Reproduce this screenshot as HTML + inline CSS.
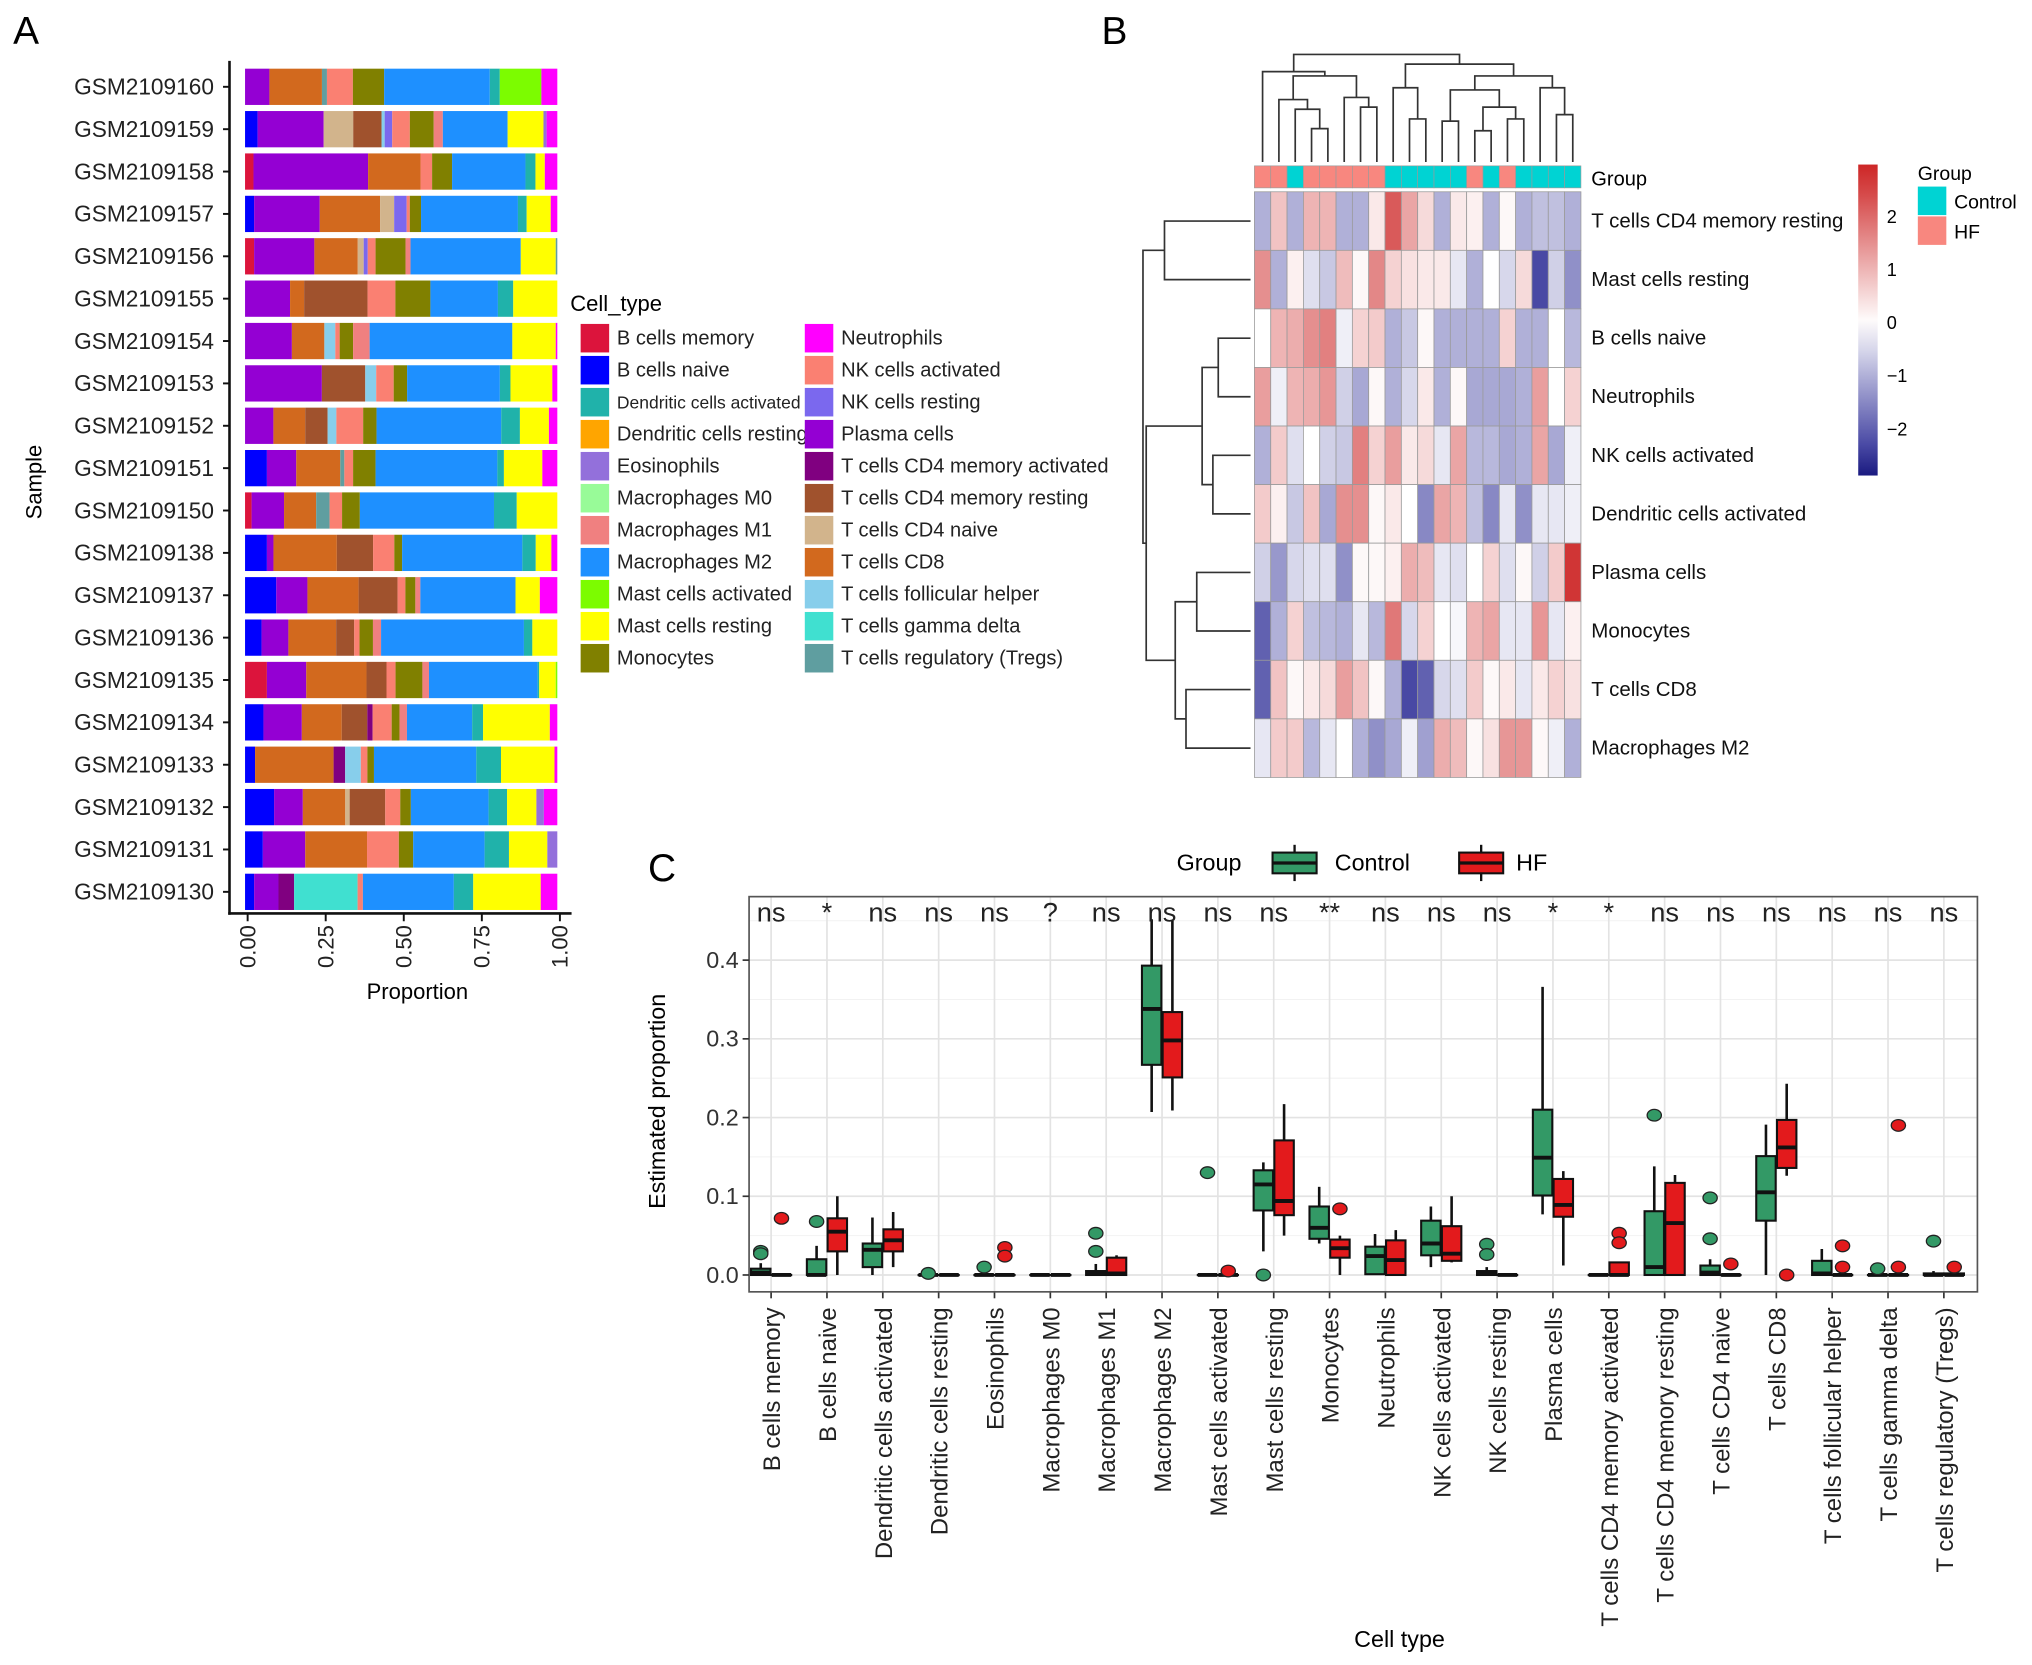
<!DOCTYPE html>
<html><head><meta charset="utf-8"><style>
html,body{margin:0;padding:0;background:#fff;}
svg{display:block;font-family:"Liberation Sans",Arial,sans-serif;}
</style></head><body>
<svg id="fig" width="2032" height="1665" viewBox="0 0 1568 1285" xmlns="http://www.w3.org/2000/svg">
<rect x="0" y="0" width="1568" height="1285" fill="#fff"/>
<text x="10" y="34" font-size="30">A</text>
<text x="850" y="34" font-size="30">B</text>
<text x="500" y="680" font-size="30">C</text>
<g id="pa"></g>
<g id="pb"></g>
<g id="pc"></g>
</svg>
<script>
// ---------- Panel A data ----------
const cellTypes=["B cells memory","B cells naive","Dendritic cells activated","Dendritic cells resting","Eosinophils","Macrophages M0","Macrophages M1","Macrophages M2","Mast cells activated","Mast cells resting","Monocytes","Neutrophils","NK cells activated","NK cells resting","Plasma cells","T cells CD4 memory activated","T cells CD4 memory resting","T cells CD4 naive","T cells CD8","T cells follicular helper","T cells gamma delta","T cells regulatory (Tregs)"];
const cellColors=["#DC143C","#0000FF","#20B2AA","#FFA500","#9370DB","#98FB98","#F08080","#1E90FF","#7CFC00","#FFFF00","#808000","#FF00FF","#FA8072","#7B68EE","#9400D3","#800080","#A0522D","#D2B48C","#D2691E","#87CEEB","#40E0D0","#5F9EA0"];
const samples=["GSM2109160","GSM2109159","GSM2109158","GSM2109157","GSM2109156","GSM2109155","GSM2109154","GSM2109153","GSM2109152","GSM2109151","GSM2109150","GSM2109138","GSM2109137","GSM2109136","GSM2109135","GSM2109134","GSM2109133","GSM2109132","GSM2109131","GSM2109130"];
const sampleTypes=[
[14,18,21,12,10,7,2,8,11],
[1,14,17,16,19,13,12,10,6,7,9,4,11],
[0,14,18,12,10,7,2,9,11],
[1,14,18,17,13,12,10,7,2,9,11],
[0,14,18,17,13,12,10,6,7,9,21],
[14,18,16,12,10,7,2,9],
[14,18,19,12,10,6,7,9,11],
[14,16,19,12,10,7,2,9,11],
[14,18,16,19,12,10,7,2,9,11],
[1,14,18,21,12,10,7,2,9,11],
[0,14,18,21,12,10,7,2,9],
[1,14,18,16,12,10,7,2,9,11],
[1,14,18,16,12,10,6,7,9,11],
[1,14,18,16,12,10,6,7,2,9],
[0,14,18,16,12,10,6,7,2,9,8],
[1,14,18,16,15,12,10,6,7,2,9,11],
[1,18,15,19,12,10,7,2,9,11],
[1,14,18,17,16,12,10,7,2,9,4,11],
[1,14,18,12,10,7,2,9,4],
[1,14,15,20,12,7,2,9,11]];
const sampleVals=[
[.078,.168,.016,.083,.10,.338,.032,.133,.051],
[.04,.21,.094,.09,.01,.024,.056,.076,.029,.206,.114,.01,.034],
[.027,.367,.168,.037,.064,.235,.032,.03,.04],
[.029,.21,.193,.045,.04,.01,.036,.31,.028,.077,.021],
[.029,.193,.139,.019,.013,.025,.096,.016,.353,.112,.005],
[.144,.045,.203,.089,.112,.216,.049,.141],
[.15,.104,.035,.014,.043,.053,.457,.139,.005],
[.246,.139,.035,.056,.043,.297,.034,.134,.016],
[.091,.102,.072,.028,.086,.043,.4,.06,.093,.027],
[.07,.094,.141,.013,.028,.072,.39,.021,.123,.048],
[.021,.104,.103,.043,.04,.057,.43,.073,.13],
[.07,.021,.203,.116,.068,.025,.385,.043,.05,.019],
[.1,.1,.164,.125,.025,.032,.016,.305,.078,.056],
[.053,.086,.153,.058,.017,.043,.026,.458,.027,.08],
[.07,.126,.193,.064,.029,.086,.021,.348,.005,.053,.005],
[.059,.123,.128,.082,.017,.061,.025,.024,.209,.035,.214,.024],
[.032,.251,.037,.05,.021,.021,.327,.079,.171,.009],
[.093,.092,.136,.014,.114,.048,.034,.249,.059,.094,.024,.043],
[.057,.136,.198,.102,.046,.229,.078,.123,.032],
[.029,.078,.05,.203,.017,.291,.062,.216,.053]];
const propTicks=[0,0.25,0.5,0.75,1];
const propTickLabels=["0.00","0.25","0.50","0.75","1.00"];

// ---------- Panel B data ----------
const hmRows=["T cells CD4 memory resting","Mast cells resting","B cells naive","Neutrophils","NK cells activated","Dendritic cells activated","Plasma cells","Monocytes","T cells CD8","Macrophages M2"];
const hmGroups=["HF","HF","Control","HF","HF","HF","HF","HF","Control","Control","Control","Control","Control","HF","Control","HF","Control","Control","Control","Control"];
const hmValues=[
[-1,0.8,-1,1,1,-1,-1,0.3,2.2,1.2,0.5,-1,0.3,0.2,-1,0.1,-1,-0.8,-0.8,-1],
[1.5,-1,0.2,-0.4,-0.7,0.9,0.1,1.6,0.6,0.4,0.3,0.3,-0.3,-1,0,-0.5,0.5,-2.3,-0.6,-1.4],
[0,1,1.1,1.5,1.7,-0.2,0.6,0.7,-1,-0.7,0.1,-1,-1,-1,-1,0.6,-1,-1,0,-0.9],
[1.3,-0.2,1,1.1,1.4,-0.6,-1.1,0.1,-1,-0.5,0.3,-1,0.1,-1.1,-1.1,-1.1,-1,1.3,0,0.6],
[-1,0.7,-0.4,0,-0.6,-0.7,1.7,0.6,1.3,0.3,0.5,-0.3,1.2,-0.9,-0.9,-1.1,-1,1.2,-1.1,-0.2],
[0.7,0.2,-0.7,0.8,-1.1,1.5,1.5,0.1,0.3,0,-1.5,1.2,1,-0.8,-1.5,-0.3,-1.4,-0.3,-0.3,-0.2],
[-0.6,-1.3,-0.5,-0.4,-0.4,-1.4,0.1,0.1,0.2,1.1,0.9,-0.3,-0.4,0,0.6,-0.4,0.1,-0.6,0.7,2.7],
[-2,-1,0.6,-0.8,-0.9,-1,-0.3,-0.9,1.8,-0.5,0.6,0,-0.1,1,1.2,-0.3,-0.3,1.4,-0.3,0.2],
[-2,0.8,0.1,0.3,0.5,1.3,0.8,0.1,-1,-2.3,-2,-0.5,-0.4,0.7,0.1,0.3,-0.3,0.3,0.6,0.4],
[-0.3,0.7,0.7,-0.9,-0.3,0,-1,-1.4,-1.1,-0.2,-1.2,1.1,0.9,0.1,0.4,1.4,1.4,0.1,-0.2,-1]];
const colTree=[1,[0.84,0,[0.8,[0.58,1,[0.49,2,[0.31,3,4]]],[0.6,5,[0.51,6,7]]]],[0.91,[0.69,8,[0.4,9,10]],[0.8,[0.67,[0.38,11,12],[0.51,[0.29,13,14],[0.4,15,16]]],[0.69,17,[0.44,18,19]]]]];
const rowTree=[1,[0.8,0,1],[0.97,[0.45,[0.3,2,3],[0.35,4,5]],[0.7,[0.5,6,7],[0.6,8,9]]]];
const legendTicks=[2,1,0,-1,-2];

// ---------- Panel C data ----------
const boxCats=["B cells memory","B cells naive","Dendritic cells activated","Dendritic cells resting","Eosinophils","Macrophages M0","Macrophages M1","Macrophages M2","Mast cells activated","Mast cells resting","Monocytes","Neutrophils","NK cells activated","NK cells resting","Plasma cells","T cells CD4 memory activated","T cells CD4 memory resting","T cells CD4 naive","T cells CD8","T cells follicular helper","T cells gamma delta","T cells regulatory (Tregs)"];
const sigLabels=["ns","*","ns","ns","ns","?","ns","ns","ns","ns","**","ns","ns","ns","*","*","ns","ns","ns","ns","ns","ns"];
const ctrlStats=[[0,0,0.003,0.008,0.015],[0,0,0,0.02,0.037],[0,0.01,0.032,0.04,0.073],[0,0,0,0,0],[0,0,0,0,0],[0,0,0,0,0],[0,0,0.002,0.005,0.014],[0.207,0.267,0.338,0.393,0.452],[0,0,0,0,0],[0.03,0.082,0.115,0.133,0.143],[0.04,0.046,0.06,0.087,0.112],[0.001,0.001,0.024,0.036,0.052],[0.01,0.025,0.04,0.069,0.087],[0,0,0.002,0.005,0.01],[0.077,0.101,0.149,0.21,0.366],[0,0,0,0,0],[0,0,0.01,0.081,0.138],[0,0,0.003,0.012,0.02],[0,0.069,0.105,0.151,0.191],[0,0,0.002,0.018,0.033],[0,0,0,0,0],[0,0,0,0.002,0.005]];
const hfStats=[[0,0,0,0,0],[0,0.03,0.055,0.072,0.1],[0.01,0.03,0.044,0.058,0.08],[0,0,0,0,0],[0,0,0,0,0],[0,0,0,0,0],[0,0,0.002,0.022,0.025],[0.209,0.251,0.298,0.334,0.45],[0,0,0,0,0],[0.05,0.076,0.094,0.171,0.217],[0,0.022,0.034,0.045,0.05],[0,0,0.019,0.044,0.057],[0.016,0.018,0.027,0.062,0.1],[0,0,0,0,0],[0.012,0.074,0.089,0.122,0.132],[0,0,0,0.016,0.016],[0,0,0.066,0.117,0.127],[0,0,0,0,0],[0.126,0.136,0.162,0.197,0.243],[0,0,0,0,0],[0,0,0,0,0],[0,0,0,0.002,0.002]];
const ctrlOut=[[0.03,0.027],[0.068],[],[0.002],[0.01],[],[0.053,0.03],[],[0.13],[0],[],[],[],[0.039,0.026],[],[],[0.203],[0.098,0.046],[],[],[0.008],[0.043]];
const hfOut=[[0.072],[],[],[],[0.035,0.024],[],[],[],[0.005],[],[0.084],[],[],[],[],[0.053,0.041],[],[0.014],[0],[0.037,0.01],[0.19,0.01],[0.01]];
const yTicksC=[0,0.1,0.2,0.3,0.4];
const yTickLabelsC=["0.0","0.1","0.2","0.3","0.4"];

const NS="http://www.w3.org/2000/svg";
function mk(parent,tag,attrs,txt){const e=document.createElementNS(NS,tag);for(const k in attrs)e.setAttribute(k,attrs[k]);if(txt!==undefined)e.textContent=txt;parent.appendChild(e);return e;}

// ================= Panel A =================
(function(){
const g=document.getElementById('pa');
const xA=v=>189+v*241;
const rowY=i=>67+i*32.7;
const bh=28;
samples.forEach((s,i)=>{
  const tot=sampleVals[i].reduce((a,b)=>a+b,0);
  let acc=0;
  sampleTypes[i].forEach((t,j)=>{
    const v=sampleVals[i][j]/tot;
    const r=mk(g,'rect',{x:xA(acc),y:rowY(i)-bh/2,width:Math.max(0,xA(acc+v)-xA(acc)),height:bh,fill:cellColors[t]});
    
    
    acc+=v;
  });
  const lb=mk(g,'text',{x:165,y:rowY(i)+6,'font-size':17.5,'text-anchor':'end',fill:'#222'},s);
  
  
});
const ya=mk(g,'line',{x1:177,y1:47,x2:177,y2:706,stroke:'#111','stroke-width':2});


const xa=mk(g,'line',{x1:176,y1:705,x2:441,y2:705,stroke:'#111','stroke-width':2});


propTicks.forEach((p,k)=>{
  const x=xA(p)+2;
  mk(g,'line',{x1:x,y1:705,x2:x,y2:711,stroke:'#111','stroke-width':1.5});
  const t=mk(g,'text',{x:x+6,y:714,'font-size':17,'text-anchor':'end',transform:`rotate(-90 ${x+6} 714)`,fill:'#222'},propTickLabels[k]);
  
  
});
samples.forEach((s,i)=>{mk(g,'line',{x1:172,y1:rowY(i),x2:177,y2:rowY(i),stroke:'#111','stroke-width':1.5});});
const xt=mk(g,'text',{x:322,y:771,'font-size':17,'text-anchor':'middle'},'Proportion');


const yt=mk(g,'text',{x:32,y:372,'font-size':17,'text-anchor':'middle',transform:'rotate(-90 32 372)'},'Sample');


const lt=mk(g,'text',{x:440,y:240,'font-size':17},'Cell_type');


cellTypes.forEach((c,k)=>{
  const col=k<11?0:1, row=k%11;
  const x=col?621:448, y=261+row*24.7;
  const sq=mk(g,'rect',{x:x,y:y-11,width:22,height:22,fill:cellColors[k]});
  
  
  const tx=mk(g,'text',{x:x+28,y:y+5,'font-size':k===2?13.5:15.5,fill:'#222'},c);
  
  
});
})();

// ================= Panel B =================
(function(){
const g=document.getElementById('pb');
const cx0=968,cw=12.6,ry0=148,rh=45.2;
function col(v){
  let t=Math.min(1,Math.abs(v)/2.9);
  let r,gg,b;
  if(v<0){t=t*0.9;r=255-t*255;gg=255-t*255;b=255-t*127;}
  else{r=255-t*50;gg=255-t*217;b=255-t*217;}
  return `rgb(${Math.round(r)},${Math.round(gg)},${Math.round(b)})`;
}
hmValues.forEach((row,i)=>{
  row.forEach((v,j)=>{
    const r=mk(g,'rect',{x:cx0+j*cw,y:ry0+i*rh,width:cw,height:rh,fill:col(v),stroke:'#9a9a9a','stroke-width':0.6});
    
    
  });
  const t=mk(g,'text',{x:1228,y:ry0+(i+0.5)*rh+5,'font-size':15.8,fill:'#111'},hmRows[i]);
  
  
});
hmGroups.forEach((gr,j)=>{
  const r=mk(g,'rect',{x:cx0+j*cw,y:128,width:cw,height:17,fill:gr==='HF'?'#F8877F':'#00D3D3',stroke:'#9a9a9a','stroke-width':0.5});
  
  
});
const gl=mk(g,'text',{x:1228,y:143,'font-size':15.5},'Group');


function drawTree(node,pos,hpos,grp){
  if(typeof node==='number')return {p:pos(node),h:hpos(0)};
  const a=drawTree(node[1],pos,hpos,grp), b=drawTree(node[2],pos,hpos,grp);
  const h=hpos(node[0]);
  grp.push([a,b,h]);
  return {p:(a.p+b.p)/2,h:h};
}
const cl=[];drawTree(colTree,i=>cx0+(i+0.5)*cw,h=>125-h*83,cl);
const cd=mk(g,'g',{stroke:'#333','stroke-width':1.3,fill:'none'});


cl.forEach(([a,b,h])=>{mk(cd,'path',{d:`M${a.p},${a.h}V${h}H${b.p}V${b.h}`});});
const rl=[];drawTree(rowTree,i=>ry0+(i+0.5)*rh,h=>965-h*83,rl);
const rd=mk(g,'g',{stroke:'#333','stroke-width':1.3,fill:'none'});


rl.forEach(([a,b,h])=>{mk(rd,'path',{d:`M${a.h},${a.p}H${h}V${b.p}H${b.h}`});});
const defs=mk(g,'defs',{});
const lg=mk(defs,'linearGradient',{id:'hmgrad',x1:0,y1:0,x2:0,y2:1});
const vTop=(249-127)/41, vBot=(249-367)/41;
for(let k=0;k<=10;k++){const v=vTop+(vBot-vTop)*k/10;mk(lg,'stop',{offset:k/10,'stop-color':v<-2.5?'#1a1a80':col(v)});}
const cb=mk(g,'rect',{x:1434,y:127,width:15,height:240,fill:'url(#hmgrad)'});


legendTicks.forEach(v=>{
  const y=249-v*41;
  const t=mk(g,'text',{x:1456,y:y+5,'font-size':14},v<0?'\u2212'+Math.abs(v):String(v));
  
  
});
const gt=mk(g,'text',{x:1480,y:139,'font-size':15},'Group');


[['Control','#00D3D3'],['HF','#F8877F']].forEach(([n,c],k)=>{
  const r=mk(g,'rect',{x:1480,y:144+k*23,width:22,height:22,fill:c});
  
  
  const t=mk(g,'text',{x:1508,y:161+k*23,'font-size':15},n);
  
  
});
})();

// ================= Panel C =================
(function(){
const g=document.getElementById('pc');
const L=578,R=1526,T=692,B=997;
const yC=v=>984-v*607.5;
const xC=i=>595+i*43.1;
const GREEN='#339966',RED='#E31A1C';
const bg=mk(g,'rect',{x:L,y:T,width:R-L,height:B-T,fill:'#fff'});


for(let v=-0.05;v<=0.45;v+=0.05){
  const y=yC(v); if(y<T||y>B)continue;
  const major=Math.abs(Math.round(v*10)-v*10)<1e-6;
  mk(g,'line',{x1:L,y1:y,x2:R,y2:y,stroke:major?'#e3e3e3':'#f2f2f2','stroke-width':major?1.3:0.8});
}
boxCats.forEach((c,i)=>{mk(g,'line',{x1:xC(i),y1:T,x2:xC(i),y2:B,stroke:'#e3e3e3','stroke-width':1.3});});
function drawBox(cx,s,fill,outs,name){
  const w=15;
  const grp=mk(g,'g',{});
  
  
  mk(grp,'line',{x1:cx,y1:yC(s[0]),x2:cx,y2:yC(s[4]),stroke:'#111','stroke-width':2});
  mk(grp,'rect',{x:cx-w/2,y:yC(s[3]),width:w,height:Math.max(0.1,yC(s[1])-yC(s[3])),fill:fill,stroke:'#111','stroke-width':1.6});
  mk(grp,'line',{x1:cx-w/2,y1:yC(s[2]),x2:cx+w/2,y2:yC(s[2]),stroke:'#111','stroke-width':3});
  outs.forEach(o=>{mk(grp,'ellipse',{cx:cx,cy:yC(o),rx:5.5,ry:4.5,fill:fill,stroke:'#222','stroke-width':1});});
}
boxCats.forEach((c,i)=>{
  drawBox(xC(i)-8,ctrlStats[i],GREEN,ctrlOut[i],'box-control');
  drawBox(xC(i)+8,hfStats[i],RED,hfOut[i],'box-hf');
  const s=mk(g,'text',{x:xC(i),y:711,'font-size':21,'text-anchor':'middle',fill:'#222'},sigLabels[i]);
  
  
  mk(g,'line',{x1:xC(i),y1:B,x2:xC(i),y2:B+5,stroke:'#333','stroke-width':1.3});
  const t=mk(g,'text',{x:xC(i)+7,y:1009,'font-size':18.5,'text-anchor':'end',transform:`rotate(-90 ${xC(i)+7} 1009)`,fill:'#222'},c);
  
  
});
const bd=mk(g,'rect',{x:L,y:T,width:R-L,height:B-T,fill:'none',stroke:'#555','stroke-width':1.3});


yTicksC.forEach((v,k)=>{
  mk(g,'line',{x1:L-5,y1:yC(v),x2:L,y2:yC(v),stroke:'#333','stroke-width':1.3});
  const t=mk(g,'text',{x:L-8,y:yC(v)+6,'font-size':18,'text-anchor':'end',fill:'#333'},yTickLabelsC[k]);
  
  
});
const yt=mk(g,'text',{x:513,y:850,'font-size':18,'text-anchor':'middle',transform:'rotate(-90 513 850)'},'Estimated proportion');


const xt=mk(g,'text',{x:1080,y:1271,'font-size':18,'text-anchor':'middle'},'Cell type');


const lt=mk(g,'text',{x:908,y:672,'font-size':18},'Group');


[['Control',GREEN,982,1030],['HF',RED,1126,1170]].forEach(([n,c,x,tx])=>{
  const k=mk(g,'g',{});
  
  
  mk(k,'line',{x1:x+17,y1:652,x2:x+17,y2:680,stroke:'#111','stroke-width':1.8});
  mk(k,'rect',{x:x,y:658,width:34,height:16,fill:c,stroke:'#111','stroke-width':1.6});
  mk(k,'line',{x1:x,y1:666,x2:x+34,y2:666,stroke:'#111','stroke-width':2.5});
  const t=mk(g,'text',{x:tx,y:672,'font-size':18},n);
  
  
});
})();
</script>
</body></html>
